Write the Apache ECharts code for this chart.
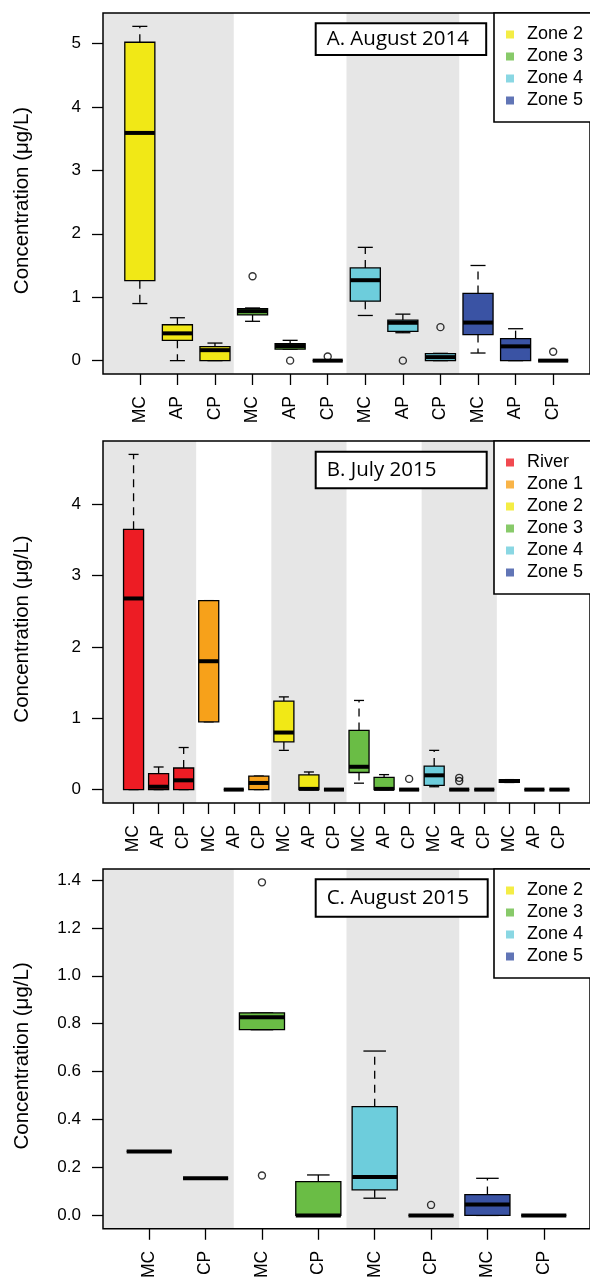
<!DOCTYPE html>
<html>
<head>
<meta charset="utf-8">
<script src="https://cdn.jsdelivr.net/npm/echarts@6/dist/echarts.min.js"></script>
<style>
html,body{margin:0;padding:0;background:#fff;}
#chart{width:590px;height:1281px;}
</style>
</head>
<body>
<div id="chart"></div>
<script>
// ---------- DATA ----------
const zoneColors = {'River':'#ED1C24','Zone 1':'#F7A11A','Zone 2':'#F1E816','Zone 3':'#6ABD45','Zone 4':'#6DCDDC','Zone 5':'#3A53A4'};

// Panel A: August 2014
const titleA = 'A. August 2014';
const catsA = ['MC','AP','CP','MC','AP','CP','MC','AP','CP','MC','AP','CP'];
const zonesA = ['Zone 2','Zone 2','Zone 2','Zone 3','Zone 3','Zone 3','Zone 4','Zone 4','Zone 4','Zone 5','Zone 5','Zone 5'];
// [min, Q1, median, Q3, max]
const statsA = [
  [0.90, 1.26, 3.59, 5.02, 5.27],
  [0.00, 0.32, 0.43, 0.566, 0.676],
  [0.00, 0.00, 0.165, 0.22, 0.277],
  [0.62, 0.72, 0.78, 0.82, 0.83],
  [0.18, 0.18, 0.23, 0.267, 0.32],
  [0, 0, 0, 0, 0],
  [0.712, 0.937, 1.268, 1.462, 1.786],
  [0.44, 0.46, 0.597, 0.638, 0.733],
  [0, 0, 0.055, 0.11, 0.115],
  [0.12, 0.41, 0.60, 1.06, 1.50],
  [0, 0, 0.225, 0.346, 0.503],
  [0, 0, 0, 0, 0]
];
const outliersA = [[4, 1.33], [5, 0.0], [6, 0.065], [8, 0.0], [9, 0.528], [12, 0.14]];
const bandsA = [[0.5, 3.5], [6.5, 9.5]];
const yTicksA = [0, 1, 2, 3, 4, 5];
const legendA = ['Zone 2', 'Zone 3', 'Zone 4', 'Zone 5'];

// Panel B: July 2015
const titleB = 'B. July 2015';
const catsB = ['MC','AP','CP','MC','AP','CP','MC','AP','CP','MC','AP','CP','MC','AP','CP','MC','AP','CP'];
const zonesB = ['River','River','River','Zone 1','Zone 1','Zone 1','Zone 2','Zone 2','Zone 2','Zone 3','Zone 3','Zone 3','Zone 4','Zone 4','Zone 4','Zone 5','Zone 5','Zone 5'];
const statsB = [
  [0, 0, 2.68, 3.65, 4.70],
  [0, 0, 0.04, 0.224, 0.317],
  [0, 0, 0.13, 0.303, 0.59],
  [0.95, 0.95, 1.80, 2.65, 2.65],
  [0, 0, 0, 0, 0],
  [0, 0, 0.093, 0.19, 0.19],
  [0.55, 0.67, 0.80, 1.24, 1.30],
  [0, 0, 0.01, 0.205, 0.247],
  [0, 0, 0, 0, 0],
  [0.09, 0.24, 0.32, 0.83, 1.25],
  [0, 0, 0.01, 0.17, 0.21],
  [0, 0, 0, 0, 0],
  [0.04, 0.06, 0.20, 0.33, 0.55],
  [0, 0, 0, 0, 0],
  [0, 0, 0, 0, 0],
  [0.10, 0.10, 0.12, 0.14, 0.14],
  [0, 0, 0, 0, 0],
  [0, 0, 0, 0, 0]
];
const outliersB = [[12, 0.15], [14, 0.165], [14, 0.12]];
const bandsB = [[0.5, 3.5], [6.5, 9.5], [12.5, 15.5]];
const yTicksB = [0, 1, 2, 3, 4];
const legendB = ['River', 'Zone 1', 'Zone 2', 'Zone 3', 'Zone 4', 'Zone 5'];

// Panel C: August 2015
const titleC = 'C. August 2015';
const catsC = ['MC','CP','MC','CP','MC','CP','MC','CP'];
const zonesC = ['Zone 2','Zone 2','Zone 3','Zone 3','Zone 4','Zone 4','Zone 5','Zone 5'];
const statsC = [
  [0.267, 0.267, 0.267, 0.267, 0.267],
  [0.155, 0.155, 0.155, 0.155, 0.155],
  [0.775, 0.775, 0.827, 0.845, 0.845],
  [0, 0, 0, 0.141, 0.169],
  [0.072, 0.107, 0.160, 0.454, 0.686],
  [0, 0, 0, 0, 0],
  [0, 0, 0.046, 0.087, 0.155],
  [0, 0, 0, 0, 0]
];
const outliersC = [[3, 1.39], [3, 0.167], [6, 0.044]];
const bandsC = [[0.5, 2.5], [4.5, 6.5]];
const yTicksC = [0, 0.2, 0.4, 0.6, 0.8, 1.0, 1.2, 1.4];
const legendC = ['Zone 2', 'Zone 3', 'Zone 4', 'Zone 5'];

// ---------- LAYOUT ----------
const panels = [
  {title: titleA, cats: catsA, zones: zonesA, stats: statsA, outliers: outliersA, bands: bandsA, yTicks: yTicksA, legend: legendA, dec: 0,
   top: 13, height: 361, tbox: {x: 315.7, y: 23.3, w: 170.5, h: 31.7}},
  {title: titleB, cats: catsB, zones: zonesB, stats: statsB, outliers: outliersB, bands: bandsB, yTicks: yTicksB, legend: legendB, dec: 0,
   top: 441, height: 362, tbox: {x: 315.7, y: 451.7, w: 171, h: 36.6}},
  {title: titleC, cats: catsC, zones: zonesC, stats: statsC, outliers: outliersC, bands: bandsC, yTicks: yTicksC, legend: legendC, dec: 1,
   top: 869, height: 362, tbox: {x: 315.7, y: 879.3, w: 172, h: 37.4}}
];

const FONT = '"Liberation Sans", Arial, Helvetica, sans-serif';
const grids = [], xAxes = [], yAxes = [], series = [], legends = [], graphics = [];

panels.forEach((p, k) => {
  const n = p.cats.length;
  const xMin = 0.5 - 0.04 * n, xMax = n + 0.5 + 0.04 * n;
  let all = [];
  p.stats.forEach(s => all = all.concat(s));
  p.outliers.forEach(o => all.push(o[1]));
  const dMin = Math.min(...all), dMax = Math.max(...all);
  const r = dMax - dMin;
  const yMin = dMin - 0.04 * r, yMax = dMax + 0.04 * r;
  const positions = p.cats.map((c, i) => i + 1);

  grids.push({left: 103, top: p.top, width: 489, height: p.height, show: true, z: 10,
    borderColor: '#000', borderWidth: 1.5, backgroundColor: 'transparent'});

  xAxes.push({type: 'value', gridIndex: k, min: xMin, max: xMax, position: 'bottom',
    splitLine: {show: false}, axisLine: {show: false, onZero: false},
    axisTick: {show: true, length: 11, customValues: positions, lineStyle: {color: '#000', width: 1.3}},
    axisLabel: {customValues: positions, rotate: 90, margin: 22, fontSize: 17.5, fontFamily: FONT, color: '#000',
      formatter: v => p.cats[Math.round(v) - 1] || ''}});

  yAxes.push({type: 'value', gridIndex: k, min: yMin, max: yMax, position: 'left',
    splitLine: {show: false}, axisLine: {show: false, onZero: false},
    axisTick: {show: true, length: 11, customValues: p.yTicks, lineStyle: {color: '#000', width: 1.3}},
    axisLabel: {customValues: p.yTicks, margin: 22, fontSize: 17, fontFamily: FONT, color: '#000',
      formatter: v => v.toFixed(p.dec)},
    name: 'Concentration (\u03bcg/L)', nameLocation: 'middle', nameGap: 70,
    nameTextStyle: {fontSize: 20.5, fontFamily: FONT, color: '#000', padding: [0, 14, 0, 0]}});

  // shaded zone bands
  series.push({type: 'custom', xAxisIndex: k, yAxisIndex: k, z: 1, silent: true,
    data: p.bands,
    renderItem: (params, api) => {
      const cs = params.coordSys;
      const x0 = api.value(0), x1 = api.value(1);
      const left = x0 <= 0.5 ? cs.x : api.coord([x0, 0])[0];
      const right = api.coord([x1, 0])[0];
      return {type: 'rect', shape: {x: left, y: cs.y, width: right - left, height: cs.height},
        style: {fill: '#E6E6E6', stroke: null}};
    }});

  // boxes
  series.push({type: 'custom', xAxisIndex: k, yAxisIndex: k, z: 3, silent: true,
    data: p.stats.map((s, i) => ({value: [i + 1].concat(s), itemStyle: {color: zoneColors[p.zones[i]]}})),
    renderItem: (params, api) => {
      const x = api.value(0);
      const yMinP = api.coord([x, api.value(1)]);
      const yQ1 = api.coord([x, api.value(2)])[1];
      const yMed = api.coord([x, api.value(3)])[1];
      const yQ3 = api.coord([x, api.value(4)])[1];
      const yMaxP = api.coord([x, api.value(5)])[1];
      const cx = yMinP[0], yLo = yMinP[1];
      const bw = api.size([0.8, 0])[0];
      const h = bw / 2, st = bw / 4;
      const col = api.visual('color');
      const thin = {stroke: '#000', lineWidth: 1.3};
      const dash = {stroke: '#000', lineWidth: 1.3, lineDash: [8, 6]};
      const ch = [];
      if (yMaxP < yQ3 - 0.5) ch.push({type: 'line', shape: {x1: cx, y1: yQ3, x2: cx, y2: yMaxP}, style: dash});
      if (yLo > yQ1 + 0.5) ch.push({type: 'line', shape: {x1: cx, y1: yQ1, x2: cx, y2: yLo}, style: dash});
      ch.push({type: 'line', shape: {x1: cx - st, y1: yMaxP, x2: cx + st, y2: yMaxP}, style: thin});
      ch.push({type: 'line', shape: {x1: cx - st, y1: yLo, x2: cx + st, y2: yLo}, style: thin});
      ch.push({type: 'rect', shape: {x: cx - h, y: yQ3, width: bw, height: yQ1 - yQ3},
        style: {fill: col, stroke: '#000', lineWidth: 1.3}});
      ch.push({type: 'line', shape: {x1: cx - h, y1: yMed, x2: cx + h, y2: yMed},
        style: {stroke: '#000', lineWidth: 4, lineCap: 'butt'}});
      return {type: 'group', children: ch};
    }});

  // outliers
  series.push({type: 'scatter', xAxisIndex: k, yAxisIndex: k, z: 4, silent: true,
    data: p.outliers, symbol: 'circle', symbolSize: 7,
    itemStyle: {color: 'rgba(255,255,255,0)', borderColor: '#000', borderWidth: 1.4}});

  legends.push({show: true, data: p.legend, left: 494, top: p.top, orient: 'vertical', z: 20,
    icon: 'rect', itemWidth: 8, itemHeight: 8, itemGap: 0, selectedMode: false,
    padding: [10.5, 40, 10.5, 12], borderColor: '#000', borderWidth: 1.6, backgroundColor: '#fff',
    textStyle: {fontSize: 18, lineHeight: 22, fontFamily: FONT, color: '#000', padding: [0, 0, 0, 8]}});

  const tb = p.tbox;
  graphics.push({type: 'rect', z: 100, shape: {x: tb.x, y: tb.y, width: tb.w, height: tb.h},
    style: {fill: '#fff', stroke: '#000', lineWidth: 2}});
  graphics.push({type: 'text', z: 101, x: tb.x + 11, y: tb.y + tb.h / 2,
    style: {text: p.title, font: '20.5px "Open Sans", "Noto Sans", sans-serif', fill: '#000', verticalAlign: 'middle', align: 'left'}});
});

// dummy series so legend items get colours
Object.keys(zoneColors).forEach(name => {
  series.push({type: 'scatter', name: name, xAxisIndex: 0, yAxisIndex: 0, data: [],
    itemStyle: {color: zoneColors[name]}});
});

const chart = echarts.init(document.getElementById('chart'), null, {renderer: 'canvas'});
chart.setOption({
  animation: false,
  backgroundColor: '#fff',
  grid: grids, xAxis: xAxes, yAxis: yAxes, series: series, legend: legends,
  graphic: {elements: graphics}
});
</script>
</body>
</html>
